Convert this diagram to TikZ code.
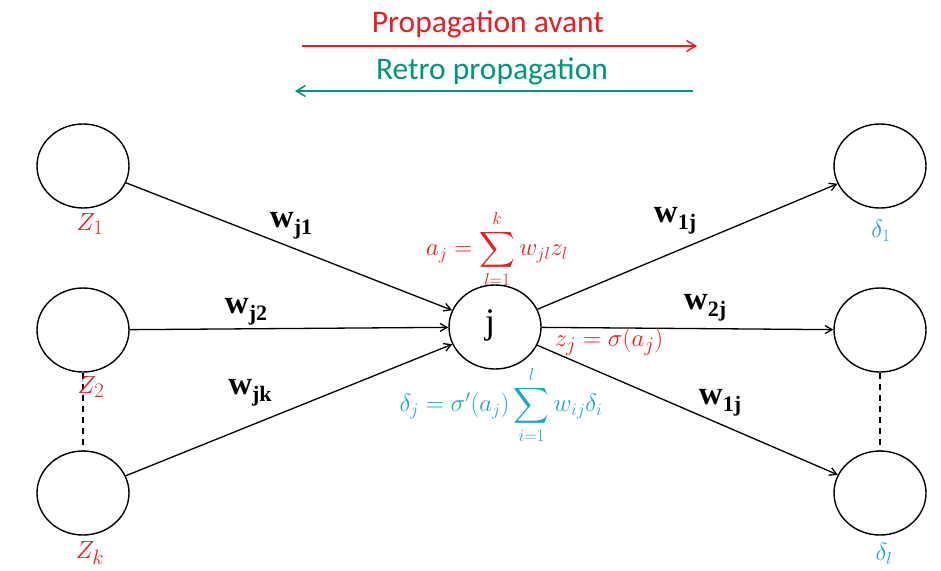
\documentclass[tikz,border=0pt]{standalone}
\usepackage{fontspec}
\usepackage{amsmath}
\newfontfamily\carl{Carlito}
\newfontfamily\tms{Liberation Serif}
\usetikzlibrary{arrows.meta,shapes.geometric}
\definecolor{myred}{RGB}{232,30,36}
\definecolor{myteal}{RGB}{0,150,125}
\definecolor{mycyan}{RGB}{30,165,200}
\newcommand{\wl}[1]{{\tms\bfseries w\raisebox{-7pt}{\fontsize{22}{22}\selectfont #1}}}
\begin{document}
\begin{tikzpicture}[x=1pt,y=-1pt,
  neuron/.style={draw,line width=1.4pt,ellipse,minimum width=92pt,minimum height=84pt,inner sep=0pt},
  conn/.style={line width=1.3pt,-{Straight Barb[length=7pt,width=8pt]}},
  wlab/.style={font=\fontsize{33}{35}\selectfont},
  zlab/.style={text=myred},
  dlab/.style={text=mycyan},
  dashline/.style={line width=1.2pt,dash pattern=on 6pt off 5pt}]
\useasboundingbox (0,0) rectangle (941,570);
\fill[white] (0,0) rectangle (941,570);
% top arrows
\coordinate (ra) at (302,46); \coordinate (rb) at (697,46);
\draw[myred,line width=1.5pt,-{Straight Barb[length=9pt,width=11pt]}] (ra) -- (rb);
\node[text=myred,font=\carl\fontsize{31.5}{34}\selectfont] (pa) at (488,24) {Propagation avant};
\coordinate (ta) at (693,91); \coordinate (tb) at (295,91);
\draw[myteal,line width=1.5pt,-{Straight Barb[length=9pt,width=11pt]}] (ta) -- (tb);
\node[text=myteal,font=\carl\fontsize{31.5}{34}\selectfont] (rp) at (492,71) {Retro propagation};
% neurons
\node[neuron] (z1) at (83,166) {};
\node[neuron] (z2) at (83,330) {};
\node[neuron] (zk) at (83,493) {};
\node[neuron] (j) at (495,327) {};
\node[font=\tms\fontsize{36}{38}\selectfont] (jl) at (490,325) {j};
\node[neuron] (o1) at (880,166) {};
\node[neuron] (o2) at (880,330) {};
\node[neuron] (ol) at (880,493) {};
% connections
\draw[conn] (z1) -- (j);
\draw[conn] (z2) -- (j);
\draw[conn] (zk) -- (j);
\draw[conn] (j) -- (o1);
\draw[conn] (j) -- (o2);
\draw[conn] (j) -- (ol);
\draw[dashline] (z2.south) -- (zk.north);
\draw[dashline] (o2.south) -- (ol.north);
% weight labels
\node[wlab] (wj1) at (291,226) {\wl{j1}};
\node[wlab] (wj2) at (246,312) {\wl{j2}};
\node[wlab] (wjk) at (250,393) {\wl{jk}};
\node[wlab] (w1j) at (675,221) {\wl{1j}};
\node[wlab] (w2j) at (705,308) {\wl{2j}};
\node[wlab] (wlj) at (720,403) {\wl{1j}};
% neuron labels
\node[zlab,font=\fontsize{28}{30}\selectfont] (l1) at (90,224) {$Z_1$};
\node[zlab,font=\fontsize{28}{30}\selectfont] (l2) at (91,387) {$Z_2$};
\node[zlab,font=\fontsize{28}{30}\selectfont] (lk) at (90,553) {$Z_k$};
\node[dlab,font=\fontsize{25}{27}\selectfont] (d1) at (881,231) {$\delta_1$};
\node[dlab,font=\fontsize{25}{27}\selectfont] (dl) at (884,554) {$\delta_l$};
% formulas
\node[text=myred,font=\fontsize{23}{25}\selectfont] (fa) at (497,249) {$a_j=\displaystyle\sum_{l=1}^{k} w_{jl}z_l$};
\node[text=myred,font=\fontsize{28}{30}\selectfont] (fz) at (609,342) {$z_j=\sigma(a_j)$};
\node[text=mycyan,font=\fontsize{27}{29}\selectfont] (fd) at (501,405) {$\delta_j=\sigma'(a_j)\displaystyle\sum_{i=1}^{l} w_{ij}\delta_i$};
\end{tikzpicture}
\end{document}
